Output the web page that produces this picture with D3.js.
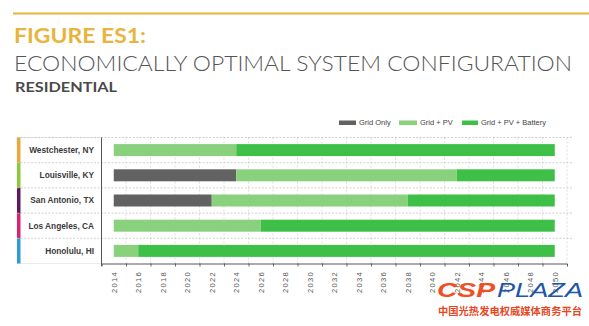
<!DOCTYPE html>
<html><head><meta charset="utf-8">
<script src="https://cdn.jsdelivr.net/npm/d3@7"></script>
<style>
html,body{margin:0;padding:0;background:#fff;}
svg{display:block;}
</style></head>
<body>
<svg id="chart" width="589" height="326"></svg>
<script>
// ---- data ----
const cities = ["Westchester, NY", "Louisville, KY", "San Antonio, TX", "Los Angeles, CA", "Honolulu, HI"];
const cityColors = ["#E9A93A", "#8DC63F", "#5A1B5E", "#D6246E", "#2F9AD3"];
const gridOnly = [null, [2014, 2024], [2014, 2022], null, null];
const gridPV = [[2014, 2024], [2024, 2042], [2022, 2038], [2014, 2026], [2014, 2016]];
const gridPVBattery = [[2024, 2050], [2042, 2050], [2038, 2050], [2026, 2050], [2016, 2050]];
const seriesNames = ["Grid Only", "Grid + PV", "Grid + PV + Battery"];
const seriesColors = ["#626262", "#8AD17E", "#3DBF48"];
const tickYears = d3.range(2014, 2051, 2);

const svg = d3.select("#chart");

// header
svg.append("line").attr("x1", 13).attr("x2", 589).attr("y1", 13.5).attr("y2", 13.5)
  .attr("stroke", "#E8B43C").attr("stroke-width", 2);
svg.append("text").attr("x", 14).attr("y", 43).text("FIGURE ES1:")
  .attr("font-family", "Lato").attr("font-weight", 700).attr("font-size", 21)
  .attr("fill", "#E8B43C").attr("textLength", 132).attr("lengthAdjust", "spacingAndGlyphs");
svg.append("text").attr("x", 14).attr("y", 71).text("ECONOMICALLY OPTIMAL SYSTEM CONFIGURATION")
  .attr("font-family", "Lato").attr("font-weight", 300).attr("font-size", 21)
  .attr("fill", "#555").attr("textLength", 558).attr("lengthAdjust", "spacingAndGlyphs");
svg.append("text").attr("x", 15).attr("y", 92).text("RESIDENTIAL")
  .attr("font-family", "Lato").attr("font-weight", 700).attr("font-size", 14)
  .attr("fill", "#4a4a4a").attr("textLength", 102).attr("lengthAdjust", "spacingAndGlyphs");

// scales
const x = d3.scaleLinear().domain([2013, 2051]).range([101.5, 567]);
const y = d3.scaleBand().domain(cities).range([137.5, 263.5]).padding(0);
const barH = 12;

// left label panel
const panel = svg.append("g");
panel.append("rect").attr("x", 17).attr("y", 137.5).attr("width", 84.5).attr("height", 126)
  .attr("fill", "#fff").attr("stroke", "#e2e2e2").attr("stroke-width", 0.6);
panel.selectAll("rect.strip").data(cities).join("rect").attr("class", "strip")
  .attr("x", 17).attr("y", d => y(d)).attr("width", 3.5).attr("height", y.bandwidth())
  .attr("fill", (d, i) => cityColors[i]);
panel.selectAll("text.city").data(cities).join("text").attr("class", "city")
  .attr("x", 94).attr("y", d => y(d) + y.bandwidth() / 2 + 2.9)
  .attr("text-anchor", "end").attr("font-family", "Liberation Sans, Arial")
  .attr("font-weight", 700).attr("font-size", 8.3).attr("fill", "#3a3a3a").text(d => d);

// grid
const gridYears = d3.range(2015, 2052, 2);
svg.append("g").selectAll("line").data(gridYears).join("line")
  .attr("x1", d => x(d)).attr("x2", d => x(d)).attr("y1", 137.5).attr("y2", 263.5)
  .attr("stroke", "#c8c8c8").attr("stroke-width", 0.6).attr("stroke-dasharray", "2,2");
const hLines = [137.5].concat(cities.slice(1).map(c => y(c)));
svg.append("g").selectAll("line").data(hLines).join("line")
  .attr("x1", 17).attr("x2", 572).attr("y1", d => d).attr("y2", d => d)
  .attr("stroke", "#bdbdbd").attr("stroke-width", 0.7).attr("stroke-dasharray", "2,1.5");

// bars
const segSets = [gridOnly, gridPV, gridPVBattery];
segSets.forEach((set, si) => {
  svg.append("g").selectAll("rect").data(cities.map((c, i) => ({c, s: set[i]})).filter(d => d.s))
    .join("rect")
    .attr("x", d => x(d.s[0])).attr("width", d => x(d.s[1]) - x(d.s[0]))
    .attr("y", d => y(d.c) + y.bandwidth() / 2 - barH / 2).attr("height", barH)
    .attr("fill", seriesColors[si]);
});

// axes
const xAxis = d3.axisBottom(x).tickValues(gridYears.filter(d => d < 2051)).tickSize(3).tickFormat("");
const gx = svg.append("g").attr("transform", "translate(0,263.5)").call(xAxis);
gx.select(".domain").attr("stroke", "#444").attr("stroke-width", 0.9);
gx.selectAll(".tick line").attr("stroke", "#444").attr("stroke-width", 0.8);
svg.append("line").attr("x1", 101.5).attr("x2", 101.5).attr("y1", 137.5).attr("y2", 266)
  .attr("stroke", "#555").attr("stroke-width", 1);

svg.append("g").selectAll("text").data(tickYears).join("text")
  .attr("transform", d => `translate(${x(d) + 2.8},271) rotate(-90)`)
  .attr("text-anchor", "end").attr("font-family", "Liberation Sans, Arial")
  .attr("font-size", 7.6).attr("letter-spacing", 1.3).attr("fill", "#555").text(d => d);

// legend
const legX = [339, 399, 462];
const legW = [17, 18, 16];
const lg = svg.append("g");
seriesNames.forEach((n, i) => {
  lg.append("rect").attr("x", legX[i]).attr("y", 120.5).attr("width", legW[i]).attr("height", 4.5)
    .attr("fill", seriesColors[i]);
  lg.append("text").attr("x", legX[i] + legW[i] + 3).attr("y", 125.3).text(n)
    .attr("font-family", "Liberation Sans, Arial").attr("font-size", 7.5).attr("fill", "#444");
});

// watermark
const wm = svg.append("g");
wm.append("text").attr("x", 437).attr("y", 297).text("CSP")
  .attr("font-family", "Liberation Sans, Arial").attr("font-weight", 700).attr("font-style", "italic")
  .attr("font-size", 20).attr("fill", "#F04E23").attr("textLength", 58).attr("lengthAdjust", "spacingAndGlyphs");
wm.append("text").attr("x", 497).attr("y", 297).text("PLAZA")
  .attr("font-family", "Liberation Sans, Arial").attr("font-style", "italic")
  .attr("font-size", 20).attr("fill", "#1F56A8").attr("textLength", 86).attr("lengthAdjust", "spacingAndGlyphs");
wm.append("text").attr("x", 438).attr("y", 315).text("中国光热发电权威媒体商务平台")
  .attr("font-family", "Noto Sans CJK SC").attr("font-weight", 700)
  .attr("font-size", 10).attr("fill", "#E8461E").attr("textLength", 144).attr("lengthAdjust", "spacingAndGlyphs");
</script>
</body></html>
